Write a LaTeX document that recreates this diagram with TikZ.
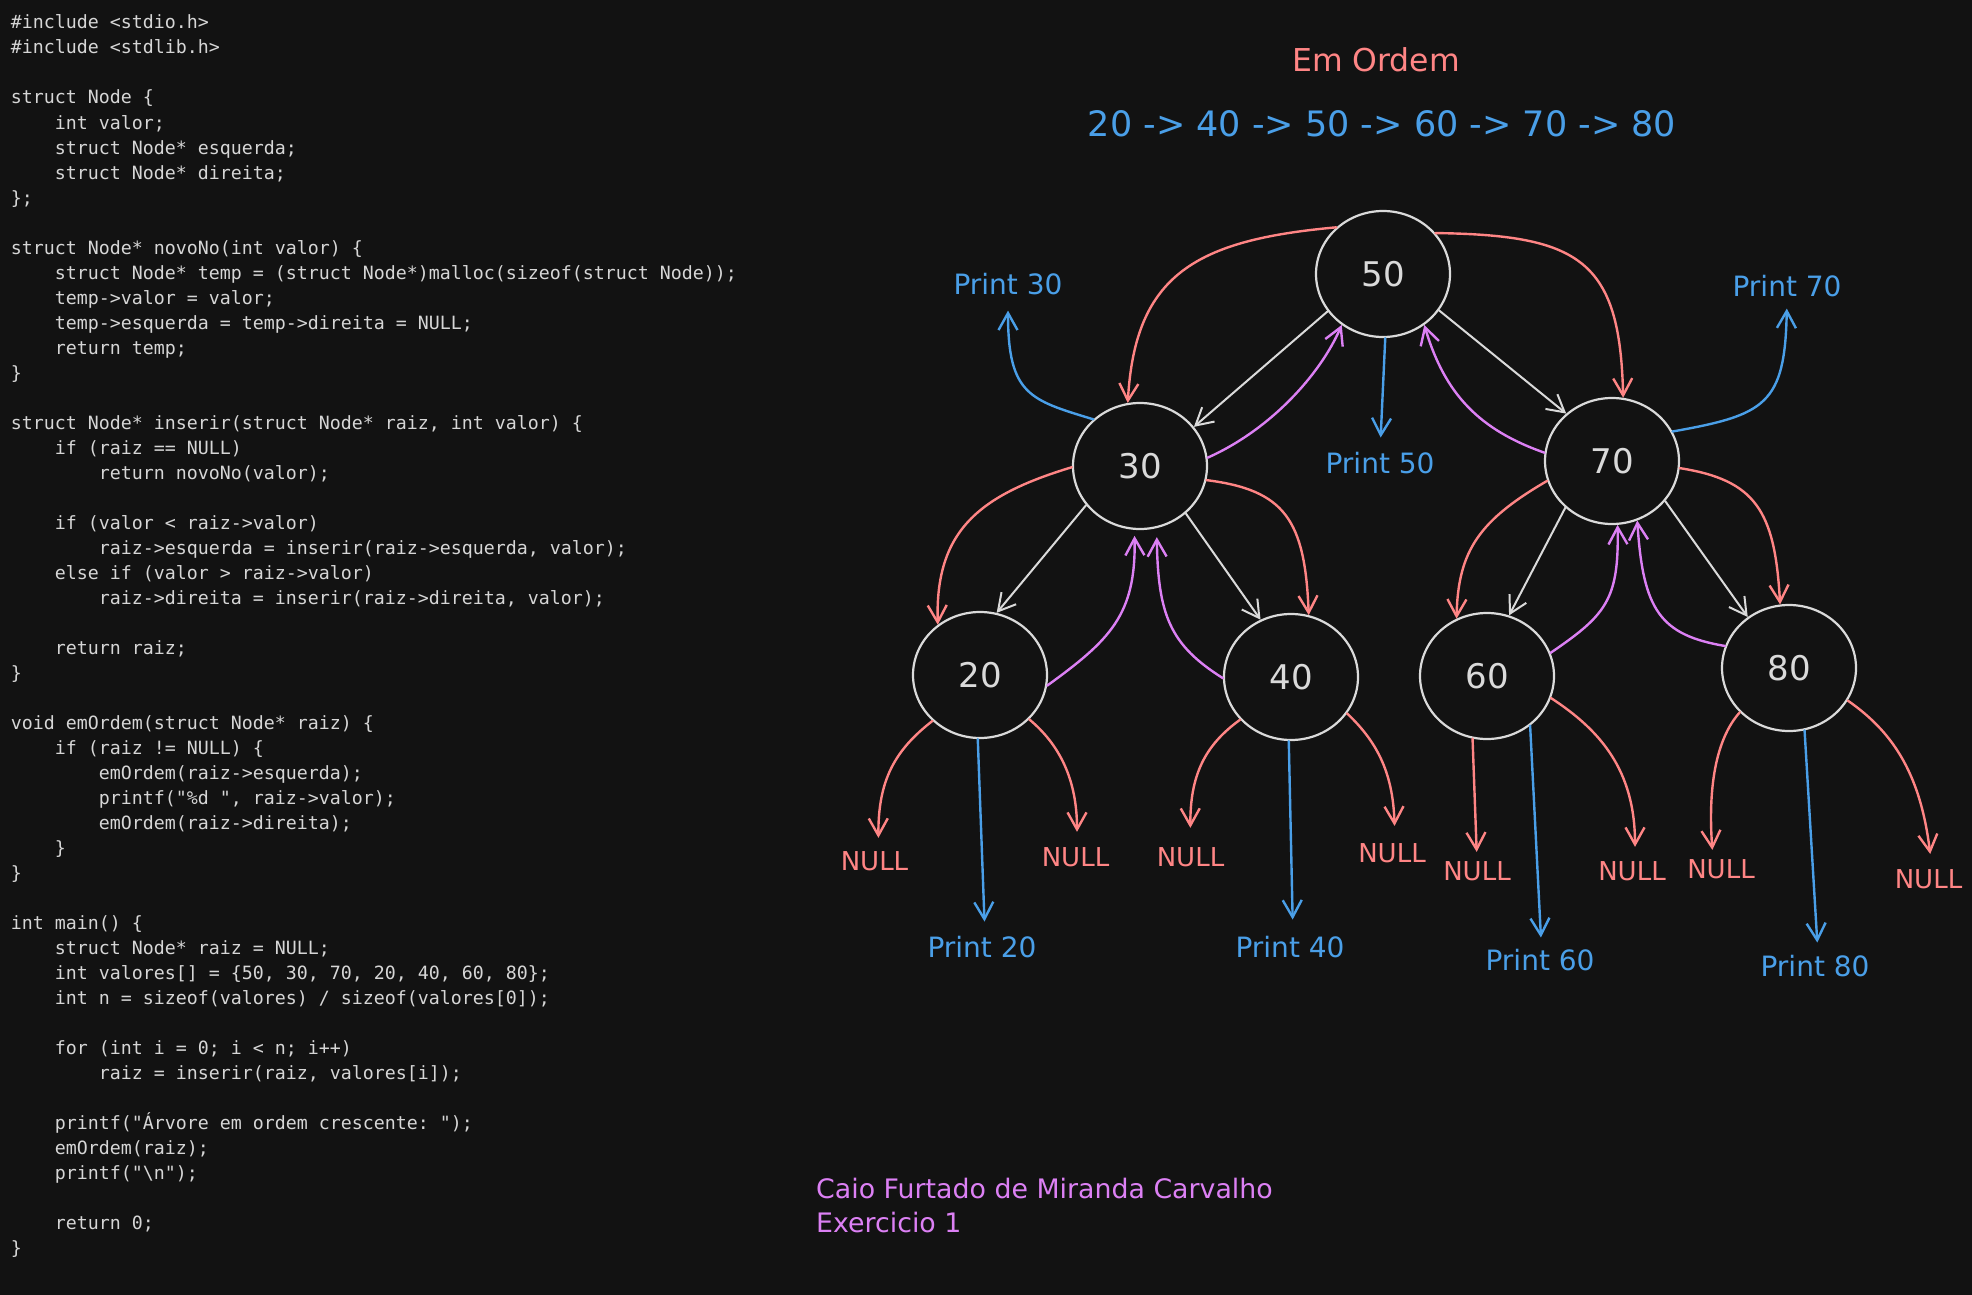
\documentclass[tikz,border=0pt]{standalone}
\usepackage{fontspec}
\setmonofont{DejaVu Sans Mono}
\newfontfamily\hand{DejaVu Sans}
\usetikzlibrary{arrows.meta,shapes.geometric}
\definecolor{bgc}{HTML}{121212}
\definecolor{codec}{HTML}{D6D6D6}
\definecolor{nodec}{HTML}{DADADA}
\definecolor{salmon}{HTML}{FF8585}
\definecolor{skyb}{HTML}{4A9FE8}
\definecolor{viol}{HTML}{DC80F4}
\newcommand\codeln[3]{\node[codetext] (c#1) at ({10.7+11*#2},{29+25*(#1-1)}) {#3};}
\tikzset{
  codetext/.style={anchor=base west, inner sep=0pt, text=codec, font=\ttfamily\fontsize{18.27}{25}\selectfont},
  bnode/.style={ellipse, draw=nodec, line width=2.2pt, fill=bgc, minimum width=134pt, minimum height=126pt, inner sep=0pt, text=nodec, font=\hand\fontsize{34}{40}\selectfont},
  plabel/.style={anchor=base, inner sep=0pt, text=skyb, font=\hand\fontsize{28}{32}\selectfont},
  nlabel/.style={anchor=base, inner sep=0pt, text=salmon, font=\hand\fontsize{26}{30}\selectfont},
  conn/.style={-{Straight Barb[length=17pt,width=19pt]}},
  rarr/.style={conn, draw=salmon, line width=2.4pt},
  garr/.style={conn, draw=nodec, line width=2pt},
  varr/.style={conn, draw=viol, line width=2.4pt},
  barr/.style={conn, draw=skyb, line width=2.4pt}
}
\begin{document}
\begin{tikzpicture}[x=1pt, y=-1pt, line cap=round, line join=round]
\fill[bgc] (0,0) rectangle (1972,1295);
\useasboundingbox (0,0) rectangle (1972,1295);

% ---------------- code ----------------
\codeln{1}{0}{\#include <stdio.h>}
\codeln{2}{0}{\#include <stdlib.h>}
\codeln{4}{0}{struct Node \{}
\codeln{5}{4}{int valor;}
\codeln{6}{4}{struct Node* esquerda;}
\codeln{7}{4}{struct Node* direita;}
\codeln{8}{0}{\};}
\codeln{10}{0}{struct Node* novoNo(int valor) \{}
\codeln{11}{4}{struct Node* temp = (struct Node*)malloc(sizeof(struct Node));}
\codeln{12}{4}{temp->valor = valor;}
\codeln{13}{4}{temp->esquerda = temp->direita = NULL;}
\codeln{14}{4}{return temp;}
\codeln{15}{0}{\}}
\codeln{17}{0}{struct Node* inserir(struct Node* raiz, int valor) \{}
\codeln{18}{4}{if (raiz == NULL)}
\codeln{19}{8}{return novoNo(valor);}
\codeln{21}{4}{if (valor < raiz->valor)}
\codeln{22}{8}{raiz->esquerda = inserir(raiz->esquerda, valor);}
\codeln{23}{4}{else if (valor > raiz->valor)}
\codeln{24}{8}{raiz->direita = inserir(raiz->direita, valor);}
\codeln{26}{4}{return raiz;}
\codeln{27}{0}{\}}
\codeln{29}{0}{void emOrdem(struct Node* raiz) \{}
\codeln{30}{4}{if (raiz != NULL) \{}
\codeln{31}{8}{emOrdem(raiz->esquerda);}
\codeln{32}{8}{printf("\%d ", raiz->valor);}
\codeln{33}{8}{emOrdem(raiz->direita);}
\codeln{34}{4}{\}}
\codeln{35}{0}{\}}
\codeln{37}{0}{int main() \{}
\codeln{38}{4}{struct Node* raiz = NULL;}
\codeln{39}{4}{int valores[] = \{50, 30, 70, 20, 40, 60, 80\};}
\codeln{40}{4}{int n = sizeof(valores) / sizeof(valores[0]);}
\codeln{42}{4}{for (int i = 0; i < n; i++)}
\codeln{43}{8}{raiz = inserir(raiz, valores[i]);}
\codeln{45}{4}{printf("Árvore em ordem crescente: ");}
\codeln{46}{4}{emOrdem(raiz);}
\codeln{47}{4}{printf("\textbackslash n");}
\codeln{49}{4}{return 0;}
\codeln{50}{0}{\}}

% ---------------- titles ----------------
\node[anchor=base, inner sep=0pt, text=salmon, font=\hand\fontsize{31.5}{36}\selectfont] (title) at (1376,72) {Em Ordem};
\node[anchor=base, inner sep=0pt, text=skyb, font=\hand\fontsize{35}{40}\selectfont] (seq) at (1382,136) {20 -> 40 -> 50 -> 60 -> 70 -> 80};

% ---------------- tree nodes ----------------
\node[bnode] (n50) at (1383,274) {50};
\node[bnode] (n30) at (1140,466) {30};
\node[bnode] (n70) at (1612,461) {70};
\node[bnode] (n20) at (980,675) {20};
\node[bnode] (n40) at (1291,677) {40};
\node[bnode] (n60) at (1487,676) {60};
\node[bnode] (n80) at (1789,668) {80};

% ---------------- labels ----------------
\node[plabel] (p30) at (1008,294) {Print 30};
\node[plabel] (p50) at (1380,473) {Print 50};
\node[plabel] (p70) at (1787,296) {Print 70};
\node[plabel] (p20) at (982,957) {Print 20};
\node[plabel] (p40) at (1290,957) {Print 40};
\node[plabel] (p60) at (1540,970) {Print 60};
\node[plabel] (p80) at (1815,976) {Print 80};

\node[nlabel] (nl1) at (874.5,870) {NULL};
\node[nlabel] (nl2) at (1075.5,866) {NULL};
\node[nlabel] (nl3) at (1190.5,866) {NULL};
\node[nlabel] (nl4) at (1392,862) {NULL};
\node[nlabel] (nl5) at (1477,880) {NULL};
\node[nlabel] (nl6) at (1632,880) {NULL};
\node[nlabel] (nl7) at (1721,878) {NULL};
\node[nlabel] (nl8) at (1928.5,888) {NULL};

\node[anchor=base west, inner sep=0pt, text=viol, font=\hand\fontsize{26.8}{30}\selectfont] (au1) at (816,1198) {Caio Furtado de Miranda Carvalho};
\node[anchor=base west, inner sep=0pt, text=viol, font=\hand\fontsize{26.8}{30}\selectfont] (au2) at (816,1232) {Exercicio 1};

% ---------------- connectors from 50 ----------------
\draw[rarr] (n50.135) .. controls (1195,240) and (1135,275) .. (n30.101);
\draw[rarr] (n50.38) .. controls (1580,235) and (1620,260) .. (n70.80);
\draw[garr] (n50.214) -- (n30.36);
\draw[garr] (n50.327) -- (n70.134);
\draw[varr] (n30.7) .. controls (1270,430) and (1320,375) .. (n50.231);
\draw[varr] (n70.173) .. controls (1480,430) and (1445,395) .. (n50.309.5);
\draw[barr, shorten >=14pt] (n50.272) -- (p50.north);

% ---------------- connectors from 30 ----------------
\draw[barr, shorten >=16pt] (n30.135) .. controls (1030,400) and (1008,395) .. (p30.south);
\draw[rarr] (n30.181) .. controls (980,495) and (935,530) .. (n20.130);
\draw[rarr] (n30.348) .. controls (1285,490) and (1305,520) .. (n40.74);
\draw[garr] (n30.216.5) -- (n20.75);
\draw[garr] (n30.314) -- (n40.118);
\draw[varr, shorten >=6pt] (n20.351.5) .. controls (1110,640) and (1136,615) .. (n30.265);
\draw[varr, shorten >=9pt] (n40.181) .. controls (1170,645) and (1158,615) .. (n30.285);

% ---------------- connectors from 70 ----------------
\draw[barr, shorten >=12pt] (n70.26) .. controls (1765,415) and (1785,405) .. (p70.south);
\draw[rarr] (n70.197) .. controls (1480,520) and (1458,550) .. (n60.118);
\draw[rarr] (n70.354) .. controls (1755,480) and (1775,510) .. (n80.98);
\draw[garr] (n70.225) -- (n60.70);
\draw[garr] (n70.323) -- (n80.129);
\draw[varr] (n60.20.7) .. controls (1606,615) and (1619,600) .. (n70.275);
\draw[varr] (n80.161) .. controls (1660,635) and (1643,610) .. (n70.293.5);

% ---------------- leaves ----------------
\draw[rarr, shorten >=13pt] (n20.224) .. controls (895,750) and (878,780) .. ([xshift=4pt]nl1.north);
\draw[barr, shorten >=14pt] (n20.268) -- ([xshift=3pt]p20.north);
\draw[rarr, shorten >=15pt] (n20.318.5) .. controls (1060,745) and (1077,780) .. ([xshift=1.5pt]nl2.north);

\draw[rarr, shorten >=19pt] (n40.220) .. controls (1205,745) and (1190,775) .. (nl3.north);
\draw[barr, shorten >=16pt] (n40.268) -- ([xshift=3pt]p40.north);
\draw[rarr, shorten >=17pt] (n40.327) .. controls (1375,740) and (1393,770) .. ([xshift=3pt]nl4.north);

\draw[rarr, shorten >=9pt] (n60.257) -- (nl5.north);
\draw[barr, shorten >=11pt] (n60.311) -- ([xshift=1.5pt]p60.north);
\draw[rarr, shorten >=14pt] (n60.341) .. controls (1600,730) and (1635,770) .. ([xshift=3pt]nl6.north);

\draw[rarr, shorten >=9pt] (n80.222) .. controls (1715,740) and (1708,790) .. ([xshift=-8pt]nl7.north);
\draw[barr, shorten >=12pt] (n80.284) -- ([xshift=3pt]p80.north);
\draw[rarr, shorten >=15pt] (n80.331.5) .. controls (1890,730) and (1920,770) .. ([xshift=3.5pt]nl8.north);
\end{tikzpicture}
\end{document}
